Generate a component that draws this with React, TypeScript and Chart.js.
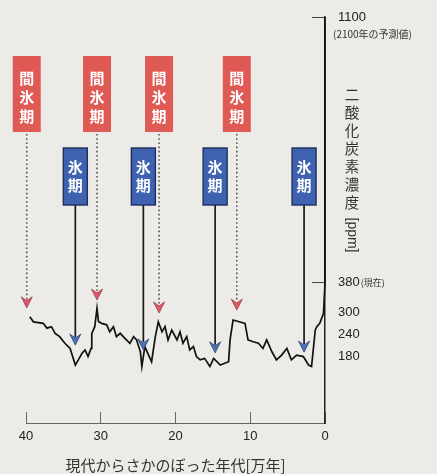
import React, { useEffect, useRef } from "react";
import { Chart, registerables } from "chart.js";

Chart.register(...registerables);

// ---- data (age in 万年 before present, CO2 in ppm) ----
const ages = [39.5, 39.0, 37.7, 37.2, 36.6, 36.1, 35.5, 34.8, 34.1, 33.4, 33.0, 32.5, 32.1, 31.7, 31.3, 31.2, 30.8, 30.5, 30.3, 29.9, 29.2, 28.8, 28.3, 27.9, 27.4, 26.8, 26.1, 25.6, 25.2, 24.7, 24.5, 24.1, 23.6, 23.2, 22.7, 22.3, 21.8, 21.4, 21.0, 20.5, 19.8, 19.4, 19.0, 18.5, 18.1, 17.6, 17.2, 16.7, 16.1, 15.4, 14.9, 14.0, 12.9, 12.7, 12.3, 11.6, 10.7, 10.3, 9.6, 8.9, 8.3, 7.8, 7.1, 6.5, 5.8, 5.1, 4.5, 3.8, 2.9, 2.2, 1.8, 1.3, 1.1, 0.7, 0.2, 0.0, 0.0];
const co2 = [288, 274, 270, 257, 261, 243, 234, 216, 202, 157, 171, 189, 198, 180, 202, 243, 261, 311, 275, 270, 266, 247, 261, 234, 243, 230, 216, 234, 225, 193, 153, 207, 184, 166, 234, 274, 247, 261, 225, 252, 225, 247, 216, 234, 198, 207, 180, 171, 175, 153, 175, 157, 166, 225, 279, 275, 270, 225, 220, 216, 202, 225, 193, 171, 184, 202, 171, 184, 180, 157, 153, 252, 261, 270, 297, 380, 1100];

const xTickValues = [40, 30, 20, 10, 0];
const yTickValues = [180, 240, 300, 380, 1100];
const markedTicks = [380, 1100];

const interglacialAges = [39.9, 30.5, 22.2, 11.8];
const interglacialTips = [312, 333, 298, 306];
const glacialAges = [33.4, 24.3, 14.7, 2.8];
const glacialTips = [211, 198, 190, 192];

const interglacialLabel = ["間", "氷", "期"];
const glacialLabel = ["氷", "期"];
const yTitleChars = ["二", "酸", "化", "炭", "素", "濃", "度"];
const yTitleUnit = "[ppm]";
const xTitle = "現代からさかのぼった年代[万年]";
const nowNote = "(現在)";
const forecastNote = "(2100年の予測値)";

const NUM_FONT = 'Arial, "Liberation Sans", "Noto Sans CJK JP", sans-serif';
const JP_FONT = '"Noto Sans CJK JP", "Noto Sans", sans-serif';

function arrowHead(ctx: CanvasRenderingContext2D, x: number, tip: number, fill: string, edge: string) {
  ctx.beginPath();
  ctx.moveTo(x, tip);
  ctx.lineTo(x - 5.5, tip - 11);
  ctx.lineTo(x, tip - 7);
  ctx.lineTo(x + 5.5, tip - 11);
  ctx.closePath();
  ctx.fillStyle = fill;
  ctx.fill();
  ctx.strokeStyle = edge;
  ctx.lineWidth = 0.8;
  ctx.stroke();
}

const annotatePlugin = {
  id: "annotate",
  afterDraw(chart: any) {
    const ctx: CanvasRenderingContext2D = chart.ctx;
    const xs = chart.scales.x;
    const ys = chart.scales.y;
    const area = chart.chartArea;
    ctx.save();

    // notes beside y tick labels
    ctx.font = `13px ${NUM_FONT}`;
    const w380 = ctx.measureText("380").width;
    const labelX = area.right + 13;
    ctx.fillStyle = "#333";
    ctx.font = `9px ${JP_FONT}`;
    ctx.textAlign = "left";
    ctx.textBaseline = "middle";
    ctx.fillText(nowNote, labelX + w380 + 1, ys.getPixelForValue(380));
    ctx.font = `10px ${JP_FONT}`;
    ctx.fillText(forecastNote, area.right + 8, ys.getPixelForValue(1100) + 17);

    // vertical (tategaki) y title
    const tx = area.right + 27;
    ctx.fillStyle = "#333";
    ctx.font = `14.5px ${JP_FONT}`;
    ctx.textAlign = "center";
    yTitleChars.forEach((c, i) => ctx.fillText(c, tx, 94 + i * 18));
    ctx.save();
    ctx.translate(tx, 235);
    ctx.rotate(Math.PI / 2);
    ctx.font = `14px ${NUM_FONT}`;
    ctx.fillText(yTitleUnit, 0, 0);
    ctx.restore();

    // interglacial (red) boxes with dotted arrows
    interglacialAges.forEach((a, i) => {
      const cx = xs.getPixelForValue(a);
      const tip = ys.getPixelForValue(interglacialTips[i]);
      ctx.setLineDash([1.6, 2.6]);
      ctx.strokeStyle = "#555";
      ctx.lineWidth = 1.6;
      ctx.beginPath();
      ctx.moveTo(cx, 134);
      ctx.lineTo(cx, tip - 8);
      ctx.stroke();
      ctx.setLineDash([]);
      arrowHead(ctx, cx, tip, "#e3566b", "#9b3a45");
      ctx.fillStyle = "#e05a55";
      ctx.fillRect(cx - 14, 56, 28, 76);
      ctx.fillStyle = "#ffffff";
      ctx.font = `bold 15px ${JP_FONT}`;
      ctx.textAlign = "center";
      ctx.textBaseline = "middle";
      interglacialLabel.forEach((c, j) => ctx.fillText(c, cx, 78 + j * 19));
    });

    // glacial (blue) boxes with solid arrows
    glacialAges.forEach((a, i) => {
      const cx = xs.getPixelForValue(a);
      const tip = ys.getPixelForValue(glacialTips[i]);
      ctx.strokeStyle = "#1a1a1a";
      ctx.lineWidth = 1.7;
      ctx.beginPath();
      ctx.moveTo(cx, 205);
      ctx.lineTo(cx, tip - 8);
      ctx.stroke();
      arrowHead(ctx, cx, tip, "#4b73b8", "#2a3f70");
      ctx.fillStyle = "#3e62b0";
      ctx.fillRect(cx - 12, 148, 24, 57);
      ctx.strokeStyle = "#1f2f60";
      ctx.lineWidth = 1.4;
      ctx.strokeRect(cx - 12, 148, 24, 57);
      ctx.fillStyle = "#ffffff";
      ctx.font = `bold 15px ${JP_FONT}`;
      ctx.textAlign = "center";
      ctx.textBaseline = "middle";
      glacialLabel.forEach((c, j) => ctx.fillText(c, cx, 167 + j * 18.5));
    });

    ctx.restore();
  },
};

export default function App() {
  const ref = useRef<HTMLCanvasElement>(null);
  useEffect(() => {
    const chart = new Chart(ref.current as HTMLCanvasElement, {
      type: "line",
      data: {
        datasets: [
          {
            data: ages.map((a, i) => ({ x: a, y: co2[i] })),
            borderColor: "#111",
            borderWidth: 1.7,
            pointRadius: 0,
            tension: 0,
            clip: false as any,
          },
        ],
      },
      options: {
        animation: false,
        responsive: false,
        events: [],
        layout: { padding: { left: 26, top: 17, right: 0, bottom: 0 } },
        plugins: { legend: { display: false }, tooltip: { enabled: false }, title: { display: false } },
        scales: {
          x: {
            type: "linear",
            position: "bottom",
            min: 0,
            max: 40,
            reverse: true,
            afterBuildTicks: (s: any) => {
              s.ticks = xTickValues.map((v) => ({ value: v }));
            },
            afterFit: (s: any) => {
              s.height = 51;
            },
            grid: { drawOnChartArea: false, drawTicks: true, tickLength: -11, tickColor: "#666", tickWidth: 1 },
            border: { display: true, color: "#666", width: 1 },
            ticks: {
              autoSkip: false,
              maxRotation: 0,
              padding: 17,
              color: "#222",
              font: { family: NUM_FONT, size: 13 },
            },
            title: {
              display: true,
              text: xTitle,
              color: "#333",
              font: { family: JP_FONT, size: 15 },
              padding: { top: 0, bottom: 0 },
            },
          },
          y: {
            type: "linear",
            position: "right",
            min: 0,
            max: 1100,
            afterBuildTicks: (s: any) => {
              s.ticks = yTickValues.map((v) => ({ value: v }));
            },
            afterFit: (s: any) => {
              s.width = 112;
              s.paddingTop = 8;
              s.paddingBottom = 8;
            },
            grid: {
              drawOnChartArea: false,
              drawTicks: true,
              tickLength: -13,
              tickWidth: 1,
              tickColor: (c: any) => (c.tick && markedTicks.includes(c.tick.value) ? "#444" : "rgba(0,0,0,0)"),
            },
            border: { display: true, color: "#222", width: 1.5 },
            ticks: {
              autoSkip: false,
              padding: 26,
              color: "#222",
              font: { family: NUM_FONT, size: 13 },
              callback: (v: any) => String(v),
            },
          },
        },
      },
      plugins: [annotatePlugin],
    });
    return () => chart.destroy();
  }, []);
  return (
    <div style={{ position: "fixed", left: 0, top: 0, width: 437, height: 474, background: "#ecebe8" }}>
      <canvas ref={ref} width={437} height={474} style={{ display: "block", width: 437, height: 474 }} />
    </div>
  );
}
